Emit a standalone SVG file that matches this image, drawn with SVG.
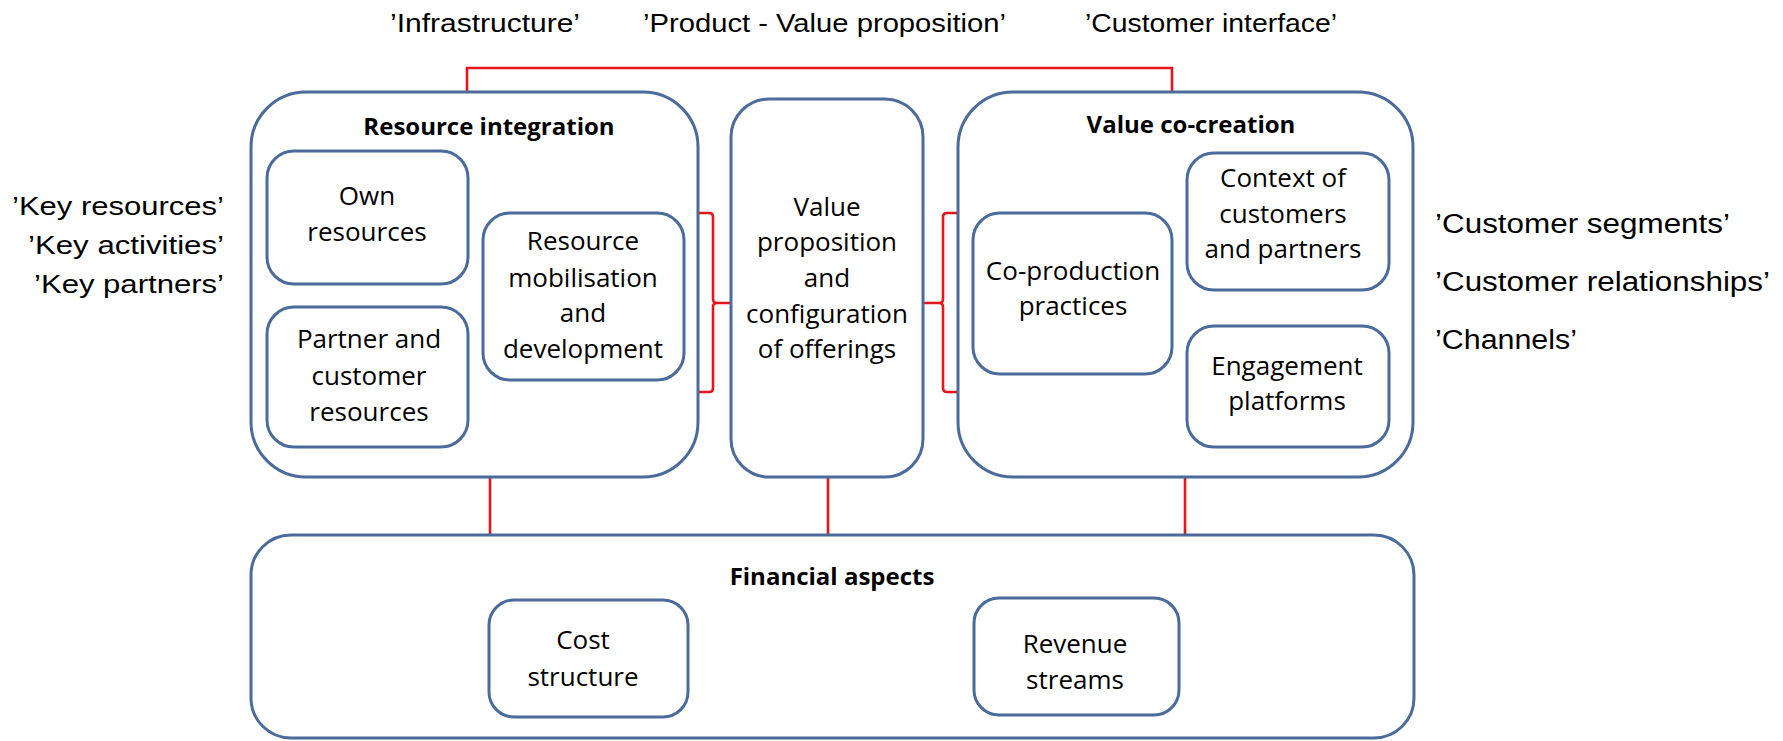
<svg xmlns="http://www.w3.org/2000/svg" width="1783" height="741" viewBox="0 0 1783 741">
  <style>
    .box { fill: #ffffff; stroke: #4a6b9b; stroke-width: 3; }
    .link { fill: none; stroke: #e8141c; stroke-width: 2.6; }
    .title { font-family: "Open Sans", "Liberation Sans", sans-serif; font-weight: bold; font-size: 24px; fill: #000; text-anchor: middle; }
    .body { font-family: "Open Sans", "Liberation Sans", sans-serif; font-size: 26px; fill: #000; text-anchor: middle; }
    .tag { font-family: "Liberation Sans", Arial, sans-serif; font-size: 26px; fill: #000; }
    .tagR { font-family: "Liberation Sans", Arial, sans-serif; font-size: 27px; fill: #000; }
  </style>
  <rect width="1783" height="741" fill="#ffffff"/>

  <!-- business model canvas terms -->
  <g id="canvas-labels">
    <text class="tag" x="390" y="32" textLength="190" lengthAdjust="spacingAndGlyphs">’Infrastructure’</text>
    <text class="tag" x="643" y="32" textLength="363" lengthAdjust="spacingAndGlyphs">’Product - Value proposition’</text>
    <text class="tag" x="1085" y="32" textLength="252" lengthAdjust="spacingAndGlyphs">’Customer interface’</text>
    <text class="tag" x="224" y="215" text-anchor="end" textLength="212" lengthAdjust="spacingAndGlyphs">’Key resources’</text>
    <text class="tag" x="224" y="254" text-anchor="end" textLength="196" lengthAdjust="spacingAndGlyphs">’Key activities’</text>
    <text class="tag" x="224" y="293" text-anchor="end" textLength="190" lengthAdjust="spacingAndGlyphs">’Key partners’</text>
    <text class="tagR" x="1435" y="233" textLength="295" lengthAdjust="spacingAndGlyphs">’Customer segments’</text>
    <text class="tagR" x="1435" y="291" textLength="335" lengthAdjust="spacingAndGlyphs">’Customer relationships’</text>
    <text class="tagR" x="1435" y="349" textLength="142" lengthAdjust="spacingAndGlyphs">’Channels’</text>
  </g>

  <!-- connectors -->
  <g id="connectors">
    <path class="link" d="M467,92 V68 H1172 V92"/>
    <path class="link" d="M698,213 H709 Q713,213 713,217 V299 Q713,303 717,303 H731 M717,303 Q713,303 713,307 V388 Q713,392 709,392 H698"/>
    <path class="link" d="M958,213 H947 Q943,213 943,217 V299 Q943,303 939,303 H923 M939,303 Q943,303 943,307 V388 Q943,392 947,392 H958"/>
    <path class="link" d="M490,477 V535 M828,477 V535 M1185,477 V535"/>
  </g>

  <!-- resource integration -->
  <g id="resource-integration">
    <rect class="box" x="251" y="92" width="447" height="385" rx="55"/>
    <text class="title" x="489" y="135">Resource integration</text>
  </g>
  <g id="own-resources">
    <rect class="box" x="267" y="151" width="201" height="133" rx="27"/>
    <text class="body" x="367" y="205">Own</text>
    <text class="body" x="367" y="241">resources</text>
  </g>
  <g id="partner-customer-resources">
    <rect class="box" x="267" y="307" width="201" height="140" rx="27"/>
    <text class="body" x="369" y="348">Partner and</text>
    <text class="body" x="369" y="385">customer</text>
    <text class="body" x="369" y="421">resources</text>
  </g>
  <g id="resource-mobilisation">
    <rect class="box" x="483" y="213" width="201" height="167" rx="27"/>
    <text class="body" x="583" y="250">Resource</text>
    <text class="body" x="583" y="287">mobilisation</text>
    <text class="body" x="583" y="322">and</text>
    <text class="body" x="583" y="358">development</text>
  </g>

  <!-- value proposition -->
  <g id="value-proposition">
    <rect class="box" x="731" y="99" width="192" height="378" rx="38"/>
    <text class="body" x="827" y="216">Value</text>
    <text class="body" x="827" y="251">proposition</text>
    <text class="body" x="827" y="287">and</text>
    <text class="body" x="827" y="323">configuration</text>
    <text class="body" x="827" y="358">of offerings</text>
  </g>

  <!-- value co-creation -->
  <g id="value-co-creation">
    <rect class="box" x="958" y="92" width="455" height="385" rx="55"/>
    <text class="title" x="1191" y="133">Value co-creation</text>
  </g>
  <g id="co-production">
    <rect class="box" x="973" y="213" width="199" height="161" rx="27"/>
    <text class="body" x="1073" y="280">Co-production</text>
    <text class="body" x="1073" y="315">practices</text>
  </g>
  <g id="customer-context">
    <rect class="box" x="1187" y="153" width="202" height="137" rx="27"/>
    <text class="body" x="1283" y="187">Context of</text>
    <text class="body" x="1283" y="223">customers</text>
    <text class="body" x="1283" y="258">and partners</text>
  </g>
  <g id="engagement-platforms">
    <rect class="box" x="1187" y="326" width="202" height="121" rx="27"/>
    <text class="body" x="1287" y="375">Engagement</text>
    <text class="body" x="1287" y="410">platforms</text>
  </g>

  <!-- financial aspects -->
  <g id="financial-aspects">
    <rect class="box" x="251" y="535" width="1163" height="203" rx="40"/>
    <text class="title" x="832" y="585">Financial aspects</text>
  </g>
  <g id="cost-structure">
    <rect class="box" x="489" y="600" width="199" height="117" rx="25"/>
    <text class="body" x="583" y="649">Cost</text>
    <text class="body" x="583" y="686">structure</text>
  </g>
  <g id="revenue-streams">
    <rect class="box" x="974" y="598" width="205" height="117" rx="25"/>
    <text class="body" x="1075" y="653">Revenue</text>
    <text class="body" x="1075" y="689">streams</text>
  </g>
</svg>
